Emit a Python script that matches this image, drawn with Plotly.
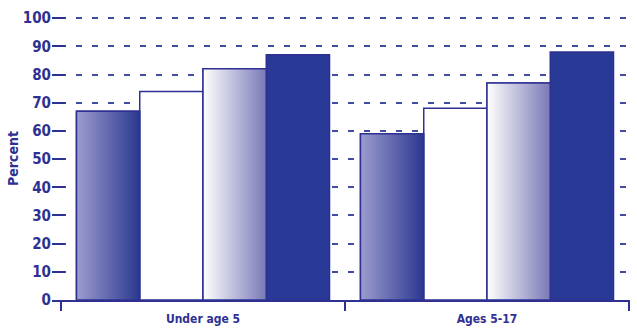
import plotly.graph_objects as go

categories = ["Under age 5", "Ages 5-17"]
series_a = [67, 59]
series_b = [74, 68]
series_c = [82, 77]
series_d = [87, 88]
y_ticks = [0, 10, 20, 30, 40, 50, 60, 70, 80, 90, 100]

NAVY = "#2e3192"
BAR_NAVY = "#283996"
GRID = "#404c9f"
FONT = "DejaVu Sans Condensed, DejaVu Sans, sans-serif"

BARGAP = 0.109
x_pos = list(range(len(categories)))
group_w = 1 - BARGAP
bar_w = group_w / 4

fig = go.Figure()

series = [
    (series_a, "rgba(0,0,0,0)", [[0, "#9c9ccd"], [1, "#2b3890"]]),
    (series_b, "#ffffff", None),
    (series_c, "rgba(0,0,0,0)", [[0, "#ffffff"], [1, "#7979b6"]]),
    (series_d, BAR_NAVY, None),
]

for i, (vals, col, grad) in enumerate(series):
    fig.add_trace(go.Bar(
        x=x_pos, y=vals, marker=dict(color=col, line=dict(color=NAVY, width=1.5)),
        showlegend=False, hoverinfo="y",
    ))

# gradient overlays for gradient-filled series, computed from the data values
for i, (vals, col, grad) in enumerate(series):
    if grad is None:
        continue
    for xc, v in zip(x_pos, vals):
        x0 = xc - group_w / 2 + i * bar_w
        x1 = x0 + bar_w
        fig.add_trace(go.Scatter(
            x=[x0, x1, x1, x0, x0], y=[0, 0, v, v, 0],
            mode="lines", fill="toself",
            fillgradient=dict(type="horizontal", colorscale=grad),
            line=dict(color=NAVY, width=1.5),
            showlegend=False, hoverinfo="skip",
        ))

left_px, right_px = 52, 630
bound_px = 61
unit_px = (629 - 61) / 2
x_start = -0.5 - (bound_px - left_px) / unit_px
x_end = x_start + (right_px - left_px) / unit_px

fig.update_layout(
    width=637, height=332,
    margin=dict(l=left_px, r=637 - right_px, t=17, b=32),
    paper_bgcolor="white", plot_bgcolor="white",
    barmode="group", bargap=BARGAP, bargroupgap=0,
    font=dict(family=FONT, color=NAVY),
)
fig.update_xaxes(
    range=[x_start, x_end],
    tickmode="array", tickvals=x_pos, ticktext=categories,
    ticks="", showgrid=False, zeroline=False,
    showline=True, linecolor=NAVY, linewidth=1.5,
    ticklabelstandoff=7,
    tickfont=dict(family=FONT, size=12, color=NAVY, weight="bold"),
    minor=dict(ticks="outside", tickmode="linear", tick0=-0.5, dtick=1,
               ticklen=9, tickcolor=NAVY, tickwidth=1.5, showgrid=False),
)
fig.update_yaxes(
    range=[0, 100.4],
    tickmode="array", tickvals=y_ticks,
    ticks="inside", ticklen=13, tickcolor=NAVY, tickwidth=1.5,
    showgrid=True, gridcolor=GRID, gridwidth=1.5, griddash="0px,8px,6px,2px",
    zeroline=False, showline=False,
    tickfont=dict(family=FONT, size=15, color=NAVY, weight="bold"),
    title=dict(text="Percent", font=dict(family=FONT, size=14, color=NAVY, weight="bold"), standoff=0),
)

fig.write_html("out.html")
